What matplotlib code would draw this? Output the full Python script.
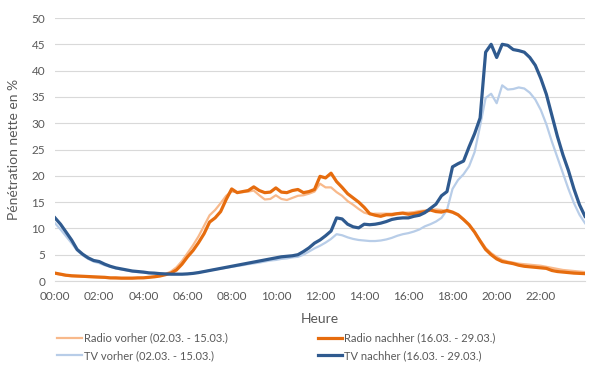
import numpy as np
import matplotlib
matplotlib.use("Agg")
import matplotlib.pyplot as plt

# 15-minute steps from 00:00 to 24:00
tv_nachher = [12.0, 10.8, 9.3, 7.8, 6.0, 5.1, 4.4, 3.9, 3.7, 3.2, 2.8, 2.5, 2.3, 2.1, 1.9, 1.8,
              1.7, 1.55, 1.5, 1.4, 1.35, 1.3, 1.3, 1.3, 1.35, 1.45, 1.6, 1.8, 2.0, 2.2, 2.4, 2.6,
              2.8, 3.0, 3.2, 3.4, 3.6, 3.8, 4.0, 4.2, 4.4, 4.6, 4.7, 4.8, 5.0, 5.6, 6.3, 7.2,
              7.8, 8.6, 9.5, 12.0, 11.8, 10.8, 10.3, 10.1, 10.8, 10.7, 10.8, 11.0, 11.3, 11.7, 11.9, 12.0,
              12.0, 12.3, 12.5, 13.0, 13.8, 14.6, 16.2, 17.0, 21.7, 22.3, 22.8, 25.5, 28.0, 31.0, 43.5, 45.0,
              42.5, 45.0, 44.8, 44.0, 43.8, 43.5, 42.5, 41.0, 38.5, 35.5, 31.5, 27.5, 24.0, 21.0, 17.5, 14.5,
              12.3]
tv_vorher = [11.0, 9.8, 8.5, 7.2, 5.8, 4.9, 4.2, 3.7, 3.4, 3.0, 2.7, 2.4, 2.2, 2.0, 1.8, 1.7,
             1.6, 1.5, 1.4, 1.35, 1.3, 1.3, 1.3, 1.3, 1.35, 1.45, 1.6, 1.8, 2.0, 2.2, 2.35, 2.5,
             2.7, 2.85, 3.0, 3.2, 3.35, 3.5, 3.7, 3.9, 4.0, 4.2, 4.3, 4.5, 4.6, 5.0, 5.6, 6.2,
             6.7, 7.3, 8.0, 8.9, 8.7, 8.3, 8.0, 7.8, 7.7, 7.6, 7.6, 7.7, 7.9, 8.2, 8.6, 8.9,
             9.1, 9.4, 9.8, 10.4, 10.8, 11.3, 12.0, 13.5, 17.5, 19.2, 20.3, 21.8, 24.5, 29.5, 34.8, 35.6,
             33.8, 37.2, 36.4, 36.5, 36.8, 36.6, 35.8, 34.5, 32.5, 29.8, 26.5, 23.5, 20.5, 17.5, 14.8, 12.6,
             11.0]
radio_nachher = [1.5, 1.3, 1.1, 1.0, 0.95, 0.9, 0.85, 0.8, 0.75, 0.7, 0.6, 0.6, 0.55, 0.55, 0.55, 0.6,
                 0.6, 0.7, 0.8, 0.95, 1.2, 1.5, 2.1, 3.2, 4.6, 5.8, 7.3, 9.0, 11.2, 12.0, 13.2, 15.5,
                 17.5, 16.8, 17.0, 17.2, 17.9, 17.2, 16.8, 16.9, 17.7, 16.9, 16.8, 17.2, 17.4, 16.8, 17.0, 17.4,
                 19.9, 19.6, 20.5, 18.9, 17.8, 16.6, 15.8, 15.0, 14.0, 12.8, 12.5, 12.3, 12.6, 12.6, 12.8, 12.9,
                 12.7, 12.8, 13.0, 13.2, 13.5, 13.2, 13.1, 13.4, 13.1, 12.6, 11.7, 10.7, 9.3, 7.6, 6.0, 5.0,
                 4.2, 3.7, 3.5, 3.3, 3.0, 2.8, 2.7, 2.6, 2.5, 2.4, 2.0, 1.8, 1.7, 1.6, 1.5, 1.45,
                 1.4]
radio_vorher = [1.4, 1.2, 1.0, 0.9, 0.85, 0.8, 0.75, 0.7, 0.65, 0.6, 0.55, 0.5, 0.5, 0.5, 0.5, 0.55,
                0.6, 0.7, 0.85, 1.05, 1.35, 1.8, 2.6, 3.8, 5.3, 6.8, 8.5, 10.5, 12.5, 13.5, 14.8, 16.2,
                17.0, 16.9, 16.9, 17.0, 17.2, 16.3, 15.5, 15.6, 16.3, 15.6, 15.4, 15.8, 16.2, 16.3, 16.6, 17.0,
                18.5, 17.8, 17.8, 16.9, 16.2, 15.2, 14.5, 13.7, 13.0, 12.7, 12.8, 12.8, 12.8, 12.8, 12.9, 13.0,
                13.0, 13.1, 13.3, 13.4, 13.5, 13.6, 13.5, 13.2, 13.0, 12.5, 11.6, 10.6, 9.3, 7.8, 6.3, 5.3,
                4.6, 4.0, 3.7, 3.5, 3.3, 3.2, 3.1, 3.0, 2.9, 2.7, 2.5, 2.3, 2.1, 2.0, 1.9, 1.8,
                1.7]
tick_labels = ["00:00", "02:00", "04:00", "06:00", "08:00", "10:00",
               "12:00", "14:00", "16:00", "18:00", "20:00", "22:00"]
legend_labels = ["Radio vorher (02.03. - 15.03.)", "Radio nachher (16.03. - 29.03.)",
                 "TV vorher (02.03. - 15.03.)", "TV nachher (16.03. - 29.03.)"]

hours = np.arange(len(tv_nachher)) * 0.25

plt.rcParams['font.family'] = ['Lato', 'DejaVu Sans']
fig = plt.figure(figsize=(6.0, 3.72), dpi=100)
ax = fig.add_axes([0.0917, 0.2446, 0.8833, 0.707])

c_rv = "#F8B98B"
c_rn = "#E66C0E"
c_tv = "#B8CDE8"
c_tn = "#2F5A8F"

l1, = ax.plot(hours, radio_vorher, color=c_rv, lw=1.6, label=legend_labels[0])
l3, = ax.plot(hours, tv_vorher, color=c_tv, lw=1.6, label=legend_labels[2])
l2, = ax.plot(hours, radio_nachher, color=c_rn, lw=2.3, label=legend_labels[1])
l4, = ax.plot(hours, tv_nachher, color=c_tn, lw=2.3, label=legend_labels[3])

ax.set_xlim(0, 24)
ax.set_ylim(0, 50)
ax.set_yticks(np.arange(0, 51, 5))
ax.set_xticks(np.arange(0, 24, 2))
ax.set_xticklabels(tick_labels)
ax.grid(axis='y', color='#D9D9D9', lw=0.8)
ax.set_axisbelow(True)
for s in ['top', 'right', 'left']:
    ax.spines[s].set_visible(False)
ax.spines['bottom'].set_color('#D9D9D9')
ax.tick_params(length=0, colors='#595959', labelsize=8.5, pad=7)
ax.set_xlabel("Heure", color='#595959', fontsize=10, labelpad=8)
ax.set_ylabel("Pénétration nette en %", color='#595959', fontsize=10, labelpad=8)

leg = fig.legend(handles=[l1, l3, l2, l4], labels=[legend_labels[0], legend_labels[2],
                                                   legend_labels[1], legend_labels[3]],
                 ncol=2, loc='upper left', bbox_to_anchor=(0.088, 0.118),
                 frameon=False, fontsize=8, handlelength=2.2, handletextpad=0.2,
                 columnspacing=8.1, labelspacing=0.6, borderaxespad=0)
for t in leg.get_texts():
    t.set_color('#595959')

fig.savefig("out.png", dpi=100)
